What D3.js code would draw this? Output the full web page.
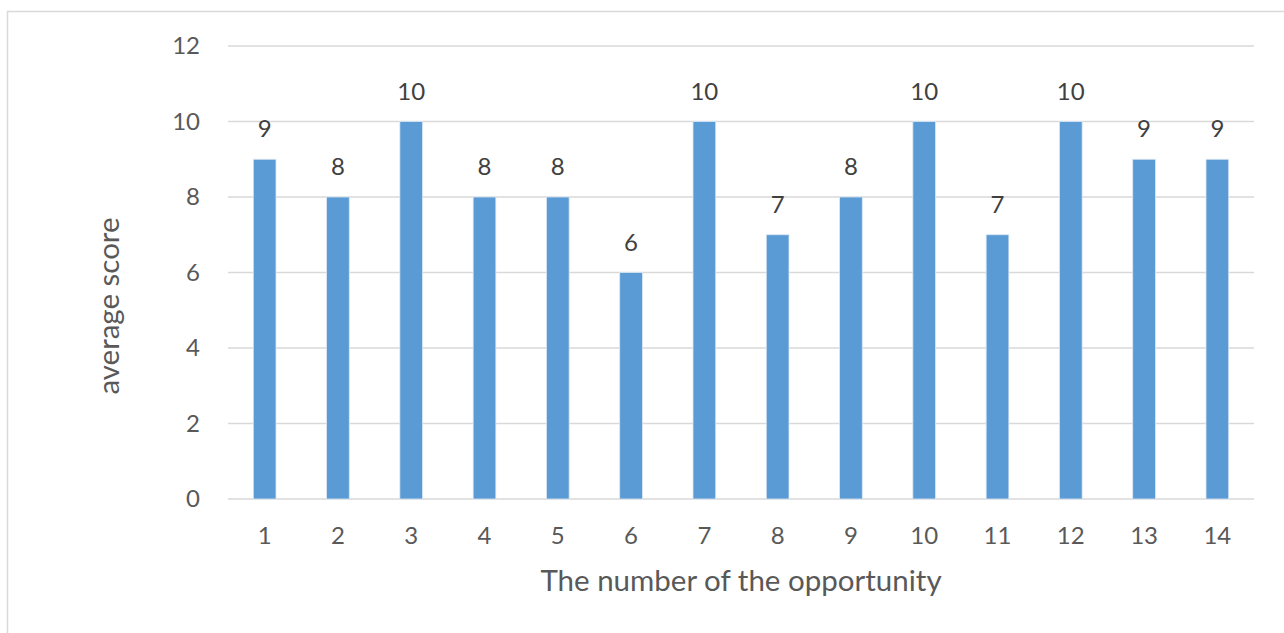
<!DOCTYPE html>
<html>
<head>
<meta charset="utf-8">
<script src="https://cdn.jsdelivr.net/npm/d3@7"></script>
<style>
  body { margin: 0; background: #fff; }
  text { font-family: Lato, "Open Sans", sans-serif; }
</style>
</head>
<body>
<script>
// data
var opportunities = ["1","2","3","4","5","6","7","8","9","10","11","12","13","14"];
var scores = [9, 8, 10, 8, 8, 6, 10, 7, 8, 10, 7, 10, 9, 9];
var yTicks = [0, 2, 4, 6, 8, 10, 12];

var W = 1284, H = 633;
var m = {left: 228, right: 30, top: 46, bottom: 134};

var svg = d3.select("body").append("svg")
  .attr("width", W).attr("height", H);

// outer frame
svg.append("rect")
  .attr("x", 7.5).attr("y", 11.5)
  .attr("width", W + 10).attr("height", H + 10)
  .attr("fill", "none").attr("stroke", "#d9d9d9").attr("stroke-width", 1.5);

var x = d3.scaleBand()
  .domain(opportunities)
  .range([m.left, W - m.right])
  .paddingInner(0.69).paddingOuter(0.345);

var y = d3.scaleLinear()
  .domain([0, 12])
  .range([H - m.bottom, m.top]);

// gridlines
svg.append("g").selectAll("line")
  .data(yTicks).enter().append("line")
  .attr("x1", m.left).attr("x2", W - m.right)
  .attr("y1", d => y(d)).attr("y2", d => y(d))
  .attr("stroke", "#d9d9d9").attr("stroke-width", 1.5);

// y axis labels
var yAxis = d3.axisLeft(y).tickValues(yTicks).tickSize(0).tickPadding(28);
var gy = svg.append("g").attr("transform", "translate(" + m.left + ",0)").call(yAxis);
gy.select(".domain").remove();
gy.selectAll("text").attr("font-size", 24).attr("fill", "#595959")
  .style("font-family", "Lato, sans-serif");

// x axis labels
var xAxis = d3.axisBottom(x).tickSize(0).tickPadding(28);
var gx = svg.append("g").attr("transform", "translate(0," + y(0) + ")").call(xAxis);
gx.select(".domain").remove();
gx.selectAll("text").attr("font-size", 24).attr("fill", "#595959")
  .style("font-family", "Lato, sans-serif");

// bars
svg.append("g").selectAll("rect")
  .data(scores).enter().append("rect")
  .attr("x", (d, i) => x(opportunities[i]))
  .attr("y", d => y(d))
  .attr("width", x.bandwidth())
  .attr("height", d => y(0) - y(d))
  .attr("fill", "#5b9bd5")
  .attr("stroke", "#dbe8f5").attr("stroke-width", 0.8);

// data labels
svg.append("g").selectAll("text")
  .data(scores).enter().append("text")
  .attr("x", (d, i) => x(opportunities[i]) + x.bandwidth() / 2)
  .attr("y", d => y(d) - 22)
  .attr("text-anchor", "middle")
  .attr("font-size", 24).attr("fill", "#404040")
  .text(d => d);

// axis titles
svg.append("text")
  .attr("x", 741).attr("y", 591)
  .attr("text-anchor", "middle")
  .attr("font-size", 29.5).attr("fill", "#595959")
  .text("The number of the opportunity");

svg.append("text")
  .attr("transform", "translate(119,306) rotate(-90)")
  .attr("text-anchor", "middle")
  .attr("font-size", 29.5).attr("fill", "#595959")
  .text("average score");
</script>
</body>
</html>
